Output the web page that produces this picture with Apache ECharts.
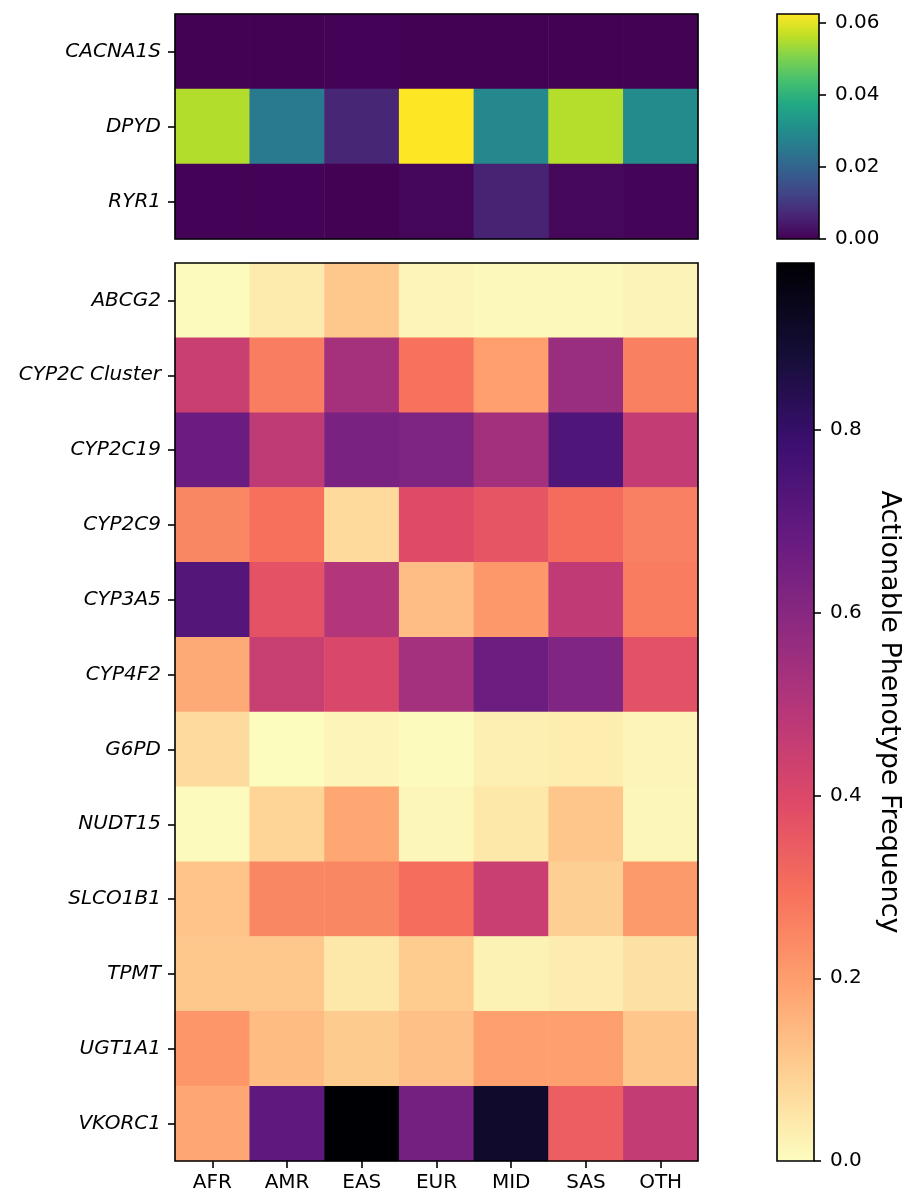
<!DOCTYPE html>
<html>
<head>
<meta charset="utf-8">
<script src="https://cdn.jsdelivr.net/npm/echarts@6/dist/echarts.min.js"></script>
<style>
  html, body { margin: 0; padding: 0; background: #ffffff; }
  #chart { width: 904px; height: 1194px; }
</style>
</head>
<body>
<div id="chart"></div>
<script>
// Population groups (columns)
const populations = ['AFR', 'AMR', 'EAS', 'EUR', 'MID', 'SAS', 'OTH'];

// Genes with rare actionable phenotypes (upper panel)
const topGenes = ['CACNA1S', 'DPYD', 'RYR1'];
const cacna1s = [0.0002, 0.0002, 0.0004, 0.0001, 0.0002, 0.0001, 0.0002];
const dpyd    = [0.0553, 0.0256, 0.0066, 0.0625, 0.0290, 0.0555, 0.0298];
const ryr1    = [0.0003, 0.0003, 0.0001, 0.0010, 0.0059, 0.0012, 0.0006];
const topValues = [cacna1s, dpyd, ryr1];

// Genes with common actionable phenotypes (lower panel)
const bottomGenes = ['ABCG2', 'CYP2C Cluster', 'CYP2C19', 'CYP2C9', 'CYP3A5', 'CYP4F2',
                     'G6PD', 'NUDT15', 'SLCO1B1', 'TPMT', 'UGT1A1', 'VKORC1'];
const abcg2     = [0.005, 0.038, 0.113, 0.017, 0.011, 0.010, 0.019];
const cyp2cClus = [0.446, 0.266, 0.533, 0.292, 0.196, 0.557, 0.260];
const cyp2c19   = [0.673, 0.471, 0.637, 0.624, 0.538, 0.736, 0.461];
const cyp2c9    = [0.247, 0.295, 0.075, 0.389, 0.363, 0.304, 0.262];
const cyp3a5    = [0.724, 0.371, 0.499, 0.135, 0.212, 0.468, 0.270];
const cyp4f2    = [0.174, 0.448, 0.406, 0.535, 0.671, 0.619, 0.373];
const g6pd      = [0.073, 0.003, 0.017, 0.006, 0.030, 0.034, 0.017];
const nudt15    = [0.006, 0.088, 0.180, 0.013, 0.047, 0.117, 0.015];
const slco1b1   = [0.121, 0.247, 0.246, 0.302, 0.446, 0.099, 0.207];
const tpmt      = [0.115, 0.115, 0.045, 0.105, 0.023, 0.036, 0.061];
const ugt1a1    = [0.214, 0.137, 0.106, 0.129, 0.194, 0.194, 0.117];
const vkorc1    = [0.181, 0.700, 0.983, 0.649, 0.905, 0.340, 0.461];
const bottomValues = [abcg2, cyp2cClus, cyp2c19, cyp2c9, cyp3a5, cyp4f2,
                      g6pd, nudt15, slco1b1, tpmt, ugt1a1, vkorc1];

// Colorbar tick values
const topTicks = [0, 0.02, 0.04, 0.06];
const bottomTicks = [0, 0.2, 0.4, 0.6, 0.8];
const colorbarTitle = 'Actionable Phenotype Frequency';

// Colormaps sampled every 0.1 (low -> high)
const viridis = ['#440154', '#482475', '#414487', '#355f8d', '#2a788e', '#21918c',
                 '#22a884', '#44bf70', '#7ad151', '#bddf26', '#fde725'];
const magma = ['#000004', '#140e36', '#3b0f70', '#641a80', '#8c2981', '#b73779',
               '#de4968', '#f7705c', '#fe9f6d', '#fecf92', '#fcfdbf'];
const magmaR = magma.slice().reverse();

const topMax = Math.max(...topValues.flat());
const bottomMax = Math.max(...bottomValues.flat());

function toCells(matrix) {
  const cells = [];
  matrix.forEach((row, yi) => row.forEach((v, xi) => cells.push([xi, yi, v])));
  return cells;
}

// Vertical gradient fill for a colorbar; first color sits at the top
function gradient(colorsTopToBottom) {
  const n = colorsTopToBottom.length - 1;
  return {
    type: 'linear', x: 0, y: 0, x2: 0, y2: 1,
    colorStops: colorsTopToBottom.map((c, i) => ({ offset: i / n, color: c }))
  };
}

const FONT = 'DejaVu Sans';
const black = '#000000';
const tickStyle = { show: true, length: 7, lineStyle: { color: black, width: 1.6 } };
const frame = { show: true, borderColor: black, borderWidth: 1.6, backgroundColor: 'transparent', z: 5 };

const L = 175, W = 523;
const CB_L = 777;

const option = {
  animation: false,
  backgroundColor: '#ffffff',
  grid: [
    Object.assign({ left: L, top: 14, width: W, height: 225 }, frame),
    Object.assign({ left: L, top: 263, width: W, height: 898 }, frame),
    Object.assign({ left: CB_L, top: 14, width: 42, height: 225 }, frame),
    Object.assign({ left: CB_L, top: 263, width: 45, height: 898 }, frame)
  ],
  xAxis: [
    { gridIndex: 0, type: 'category', data: populations,
      axisLine: { show: false }, axisTick: { show: false }, axisLabel: { show: false } },
    { gridIndex: 1, type: 'category', data: populations,
      axisLine: { show: false },
      axisTick: Object.assign({ alignWithLabel: true }, tickStyle),
      axisLabel: { color: black, fontSize: 20, fontFamily: FONT, margin: 12 } },
    { gridIndex: 2, type: 'category', data: ['bar'], show: false },
    { gridIndex: 3, type: 'category', data: ['bar'], show: false }
  ],
  yAxis: [
    { gridIndex: 0, type: 'category', data: topGenes, inverse: true,
      axisLine: { show: false },
      axisTick: Object.assign({ alignWithLabel: true }, tickStyle),
      axisLabel: { color: black, fontSize: 20, fontFamily: FONT, fontStyle: 'italic', margin: 14 } },
    { gridIndex: 1, type: 'category', data: bottomGenes, inverse: true,
      axisLine: { show: false },
      axisTick: Object.assign({ alignWithLabel: true }, tickStyle),
      axisLabel: { color: black, fontSize: 20, fontFamily: FONT, fontStyle: 'italic', margin: 14 } },
    { gridIndex: 2, type: 'value', position: 'right', min: 0, max: topMax,
      splitLine: { show: false }, axisLine: { show: false },
      axisTick: Object.assign({ customValues: topTicks }, tickStyle),
      axisLabel: { customValues: topTicks, color: black, fontSize: 20, fontFamily: FONT, margin: 16,
                   formatter: v => v.toFixed(2) } },
    { gridIndex: 3, type: 'value', position: 'right', min: 0, max: bottomMax,
      splitLine: { show: false }, axisLine: { show: false },
      axisTick: Object.assign({ customValues: bottomTicks }, tickStyle),
      axisLabel: { customValues: bottomTicks, color: black, fontSize: 20, fontFamily: FONT, margin: 16,
                   formatter: v => v.toFixed(1) },
      name: colorbarTitle, nameLocation: 'middle', nameRotate: -90, nameGap: 62,
      nameTextStyle: { color: black, fontSize: 27, fontFamily: FONT } }
  ],
  visualMap: [
    { show: false, type: 'continuous', seriesIndex: 0, min: 0, max: topMax, dimension: 2,
      inRange: { color: viridis } },
    { show: false, type: 'continuous', seriesIndex: 1, min: 0, max: bottomMax, dimension: 2,
      inRange: { color: magmaR } }
  ],
  series: [
    { type: 'heatmap', xAxisIndex: 0, yAxisIndex: 0, data: toCells(topValues),
      itemStyle: { borderWidth: 0 }, emphasis: { disabled: true } },
    { type: 'heatmap', xAxisIndex: 1, yAxisIndex: 1, data: toCells(bottomValues),
      itemStyle: { borderWidth: 0 }, emphasis: { disabled: true } },
    { type: 'bar', xAxisIndex: 2, yAxisIndex: 2, data: [topMax], barWidth: '100%', silent: true,
      itemStyle: { color: gradient(viridis.slice().reverse()) } },
    { type: 'bar', xAxisIndex: 3, yAxisIndex: 3, data: [bottomMax], barWidth: '100%', silent: true,
      itemStyle: { color: gradient(magma) } }
  ]
};

const chart = echarts.init(document.getElementById('chart'), null, { renderer: 'canvas' });
chart.setOption(option);
</script>
</body>
</html>
